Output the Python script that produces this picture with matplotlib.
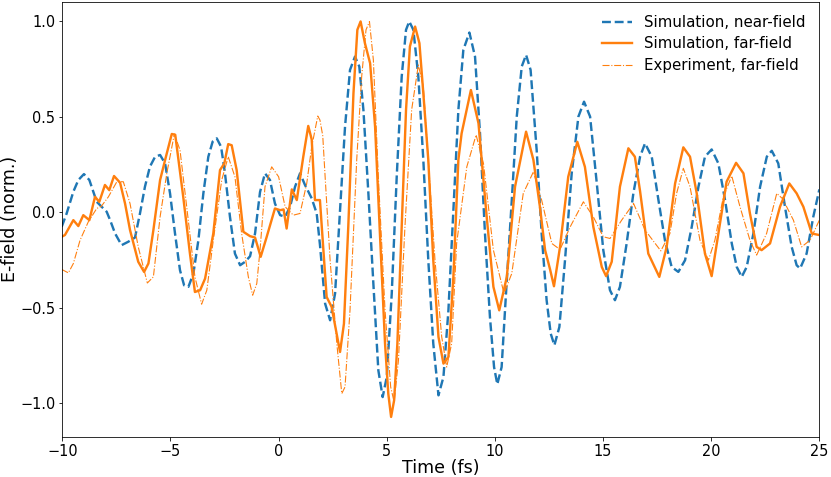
import matplotlib
matplotlib.use("Agg")
import matplotlib.pyplot as plt

# Simulation, near-field (time in fs, normalized field)
t_near = [-10.03, -9.80, -9.49, -9.26, -9.00, -8.75, -8.57, -8.41, -8.18, -7.95, -7.79, -7.56,
          -7.26, -6.95, -6.64, -6.41, -6.18, -5.95, -5.71, -5.48, -5.25, -5.02, -4.79, -4.56,
          -4.37, -4.17, -3.94, -3.71, -3.48, -3.25, -3.05, -2.86, -2.66, -2.48, -2.25, -2.02,
          -1.78, -1.55, -1.32, -1.09, -0.86, -0.63, -0.40, -0.17, 0.07, 0.30, 0.53, 0.76,
          0.99, 1.22, 1.53, 1.76, 1.91, 2.15, 2.38, 2.61, 2.84, 3.07, 3.30, 3.53,
          3.73, 3.92, 4.15, 4.38, 4.61, 4.81, 5.00, 5.23, 5.46, 5.69, 5.89, 6.04,
          6.23, 6.46, 6.69, 6.92, 7.15, 7.39, 7.62, 7.85, 8.08, 8.31, 8.54, 8.82,
          9.08, 9.31, 9.54, 9.77, 9.96, 10.11, 10.31, 10.54, 10.78, 11.01, 11.24, 11.44,
          11.65, 11.93, 12.16, 12.39, 12.58, 12.75, 12.98, 13.24, 13.55, 13.86, 14.12, 14.40,
          14.71, 15.01, 15.32, 15.55, 15.78, 16.09, 16.40, 16.71, 16.94, 17.25, 17.56, 17.86,
          18.17, 18.48, 18.79, 19.10, 19.41, 19.71, 20.02, 20.33, 20.64, 20.95, 21.18, 21.41,
          21.64, 21.95, 22.26, 22.57, 22.80, 23.10, 23.41, 23.72, 23.95, 24.11, 24.41, 24.72,
          25.00]
e_near = [-0.077, -0.007, 0.107, 0.168, 0.199, 0.168, 0.107, 0.054, 0.028, 0.002, -0.042, -0.112,
          -0.173, -0.155, -0.133, -0.007, 0.133, 0.238, 0.290, 0.299, 0.255, 0.098, -0.112, -0.304,
          -0.383, -0.391, -0.321, -0.147, 0.098, 0.290, 0.369, 0.386, 0.342, 0.203, -0.024, -0.217,
          -0.278, -0.260, -0.231, -0.112, 0.105, 0.203, 0.168, 0.045, -0.016, -0.024, 0.028, 0.133,
          0.203, 0.142, 0.072, -0.007, -0.170, -0.479, -0.566, -0.426, 0.010, 0.447, 0.744, 0.814,
          0.762, 0.535, 0.098, -0.374, -0.828, -0.968, -0.863, -0.426, 0.185, 0.709, 0.954, 0.998,
          0.954, 0.709, 0.273, -0.252, -0.688, -0.959, -0.863, -0.514, 0.010, 0.535, 0.849, 0.940,
          0.814, 0.412, -0.112, -0.549, -0.811, -0.901, -0.811, -0.374, 0.063, 0.500, 0.762, 0.823,
          0.744, 0.325, -0.112, -0.461, -0.636, -0.697, -0.601, -0.252, 0.203, 0.500, 0.578, 0.500,
          0.150, -0.199, -0.409, -0.461, -0.391, -0.164, 0.098, 0.290, 0.360, 0.290, 0.063, -0.147,
          -0.287, -0.313, -0.252, -0.077, 0.133, 0.290, 0.328, 0.255, 0.063, -0.164, -0.287, -0.339,
          -0.287, -0.112, 0.133, 0.290, 0.321, 0.255, 0.028, -0.182, -0.278, -0.295, -0.217, -0.024,
          0.119]

# Simulation, far-field
t_far = [-10.03, -9.88, -9.49, -9.26, -9.03, -8.75, -8.49, -8.29, -8.03, -7.83, -7.61, -7.33,
         -7.10, -6.87, -6.49, -6.22, -6.02, -5.79, -5.48, -5.21, -4.94, -4.78, -4.41, -4.10,
         -3.87, -3.63, -3.40, -3.02, -2.71, -2.51, -2.33, -2.17, -1.94, -1.63, -1.32, -1.09,
         -0.83, -0.55, -0.17, 0.07, 0.23, 0.37, 0.61, 0.84, 1.14, 1.37, 1.53, 1.68,
         1.91, 2.22, 2.45, 2.65, 2.84, 3.02, 3.22, 3.46, 3.64, 3.79, 3.99, 4.23,
         4.46, 4.69, 4.92, 5.07, 5.20, 5.34, 5.49, 5.69, 5.89, 6.07, 6.31, 6.51,
         6.69, 6.92, 7.15, 7.39, 7.62, 7.85, 8.08, 8.31, 8.46, 8.89, 9.24, 9.62,
         9.93, 10.20, 10.55, 10.93, 11.44, 11.78, 12.08, 12.32, 12.55, 12.73, 13.01, 13.39,
         13.81, 14.16, 14.55, 14.94, 15.14, 15.40, 15.78, 16.17, 16.47, 16.71, 17.09, 17.60,
         17.94, 18.33, 18.71, 19.02, 19.33, 19.71, 20.02, 20.33, 20.71, 21.15, 21.49, 21.79,
         22.10, 22.33, 22.72, 23.18, 23.61, 23.95, 24.26, 24.65, 25.00]
e_far = [-0.129, -0.120, -0.042, -0.073, -0.016, -0.042, 0.080, 0.054, 0.142, 0.115, 0.189, 0.154,
         0.045, -0.094, -0.260, -0.313, -0.269, -0.094, 0.168, 0.290, 0.409, 0.405, 0.080, -0.217,
         -0.418, -0.409, -0.348, -0.112, 0.220, 0.255, 0.356, 0.350, 0.220, -0.103, -0.126, -0.133,
         -0.234, -0.129, 0.019, 0.010, 0.014, -0.086, 0.119, 0.063, 0.290, 0.451, 0.380, 0.063,
         0.063, -0.444, -0.496, -0.618, -0.732, -0.584, -0.077, 0.622, 0.954, 0.998, 0.884, 0.779,
         0.447, -0.129, -0.688, -0.950, -1.072, -0.985, -0.688, -0.077, 0.535, 0.867, 0.971, 0.884,
         0.622, 0.273, -0.252, -0.653, -0.793, -0.758, -0.339, 0.273, 0.412, 0.639, 0.465, -0.025,
         -0.391, -0.514, -0.339, 0.133, 0.421, 0.273, 0.028, -0.199, -0.300, -0.388, -0.182, 0.185,
         0.368, 0.237, -0.077, -0.287, -0.335, -0.260, 0.133, 0.334, 0.290, 0.110, -0.217, -0.339,
         -0.182, 0.150, 0.339, 0.290, 0.098, -0.217, -0.335, -0.112, 0.159, 0.258, 0.203, -0.007,
         -0.182, -0.199, -0.164, 0.028, 0.150, 0.098, 0.028, -0.112, -0.120]

# Experiment, far-field
t_exp = [-10.03, -9.72, -9.49, -9.18, -8.80, -8.41, -8.20, -7.87, -7.48, -7.18, -6.87, -6.49,
         -6.07, -5.79, -5.48, -5.17, -4.82, -4.56, -4.25, -3.87, -3.56, -3.32, -3.02, -2.63,
         -2.33, -2.02, -1.71, -1.40, -1.20, -1.01, -0.86, -0.63, -0.32, 0.00, 0.30, 0.68,
         0.99, 1.30, 1.53, 1.81, 1.91, 2.04, 2.15, 2.38, 2.69, 2.92, 3.07, 3.30,
         3.61, 3.84, 4.04, 4.20, 4.38, 4.61, 4.92, 5.18, 5.34, 5.54, 5.84, 6.15,
         6.46, 6.69, 6.92, 7.23, 7.54, 7.77, 8.00, 8.23, 8.70, 9.13, 9.47, 9.93,
         10.42, 10.78, 11.31, 11.78, 12.16, 12.63, 13.01, 13.48, 14.09, 14.55, 15.01, 15.32,
         15.86, 16.41, 16.94, 17.67, 18.09, 18.40, 18.71, 19.02, 19.48, 19.87, 20.17, 20.56,
         20.95, 21.33, 21.79, 22.10, 22.56, 23.03, 23.30, 23.80, 24.18, 24.57, 25.00]
e_exp = [-0.300, -0.318, -0.269, -0.147, -0.051, 0.019, 0.030, 0.080, 0.159, 0.159, 0.045, -0.182,
         -0.371, -0.339, -0.025, 0.203, 0.409, 0.325, 0.028, -0.339, -0.482, -0.409, -0.147, 0.168,
         0.290, 0.185, -0.112, -0.339, -0.435, -0.374, -0.199, 0.133, 0.237, 0.185, 0.028, -0.016,
         -0.007, 0.150, 0.342, 0.503, 0.482, 0.400, 0.185, -0.252, -0.688, -0.950, -0.915, -0.514,
         0.273, 0.709, 0.954, 0.997, 0.797, 0.185, -0.514, -0.915, -0.994, -0.776, -0.077, 0.535,
         0.770, 0.657, 0.273, -0.252, -0.653, -0.811, -0.688, -0.164, 0.237, 0.404, 0.255, -0.199,
         -0.426, -0.321, 0.098, 0.211, 0.063, -0.164, -0.196, -0.077, 0.054, -0.025, -0.129, -0.138,
         -0.042, 0.045, -0.094, -0.203, -0.112, 0.098, 0.229, 0.133, -0.147, -0.252, -0.147, 0.080,
         0.189, 0.028, -0.147, -0.225, -0.112, 0.098, 0.070, -0.042, -0.182, -0.147, -0.042]

# rendered at 72 dpi, so point sizes equal pixels
fig = plt.figure(figsize=(831 / 72, 477 / 72), dpi=72)
ax = fig.add_axes([0.075, 0.0845, 0.911, 0.912])

ax.plot(t_near, e_near, '--', color='tab:blue', lw=2.4, label='Simulation, near-field')
ax.plot(t_far, e_far, '-', color='tab:orange', lw=2.4, label='Simulation, far-field')
ax.plot(t_exp, e_exp, '-.', color='tab:orange', lw=1.1, label='Experiment, far-field')

ax.set_xlim(-10, 25)
ax.set_xlabel('Time (fs)', fontsize=17.5, labelpad=0.5)
ax.set_ylabel('E-field (norm.)', fontsize=17.5, labelpad=1)
ax.tick_params(labelsize=14.5)
ax.legend(loc='upper right', frameon=False, fontsize=15, labelspacing=0.42)

fig.savefig('out.png', dpi=72)
